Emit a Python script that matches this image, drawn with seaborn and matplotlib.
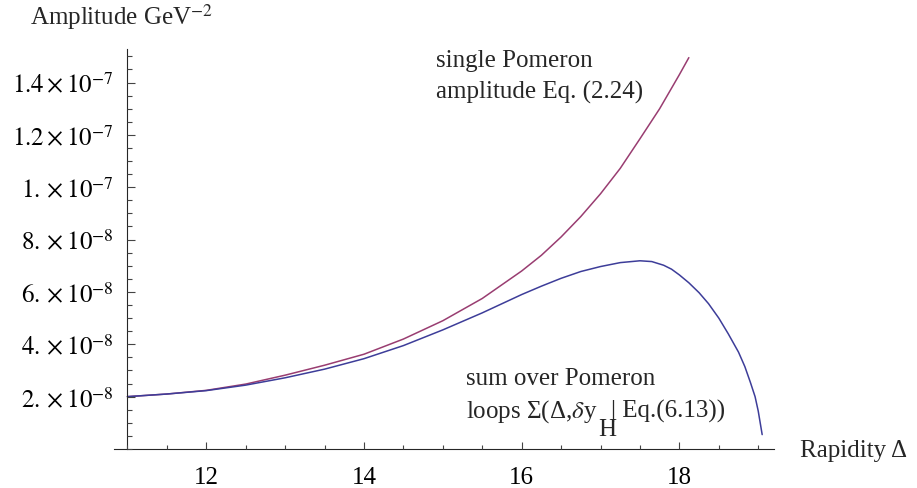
import numpy as np
import pandas as pd
import matplotlib
matplotlib.use("Agg")
import matplotlib.pyplot as plt
import seaborn as sns
from matplotlib.ticker import FixedLocator, FixedFormatter

# values (amplitude in units of 1e-8 GeV^-2)
rap_single = [11.0, 11.5, 12.0, 12.5, 13.0, 13.5, 14.0, 14.5, 15.0, 15.5,
              16.0, 16.25, 16.5, 16.75, 17.0, 17.25, 17.5, 17.75, 18.0, 18.12]
amp_single = [2.0, 2.1, 2.24, 2.48, 2.82, 3.2, 3.62, 4.2, 4.9, 5.75,
              6.8, 7.4, 8.1, 8.88, 9.75, 10.72, 11.85, 13.0, 14.3, 14.95]

rap_loops = [11.0, 11.5, 12.0, 12.5, 13.0, 13.5, 14.0, 14.5, 15.0, 15.5,
             16.0, 16.25, 16.5, 16.75, 17.0, 17.25, 17.5, 17.65, 17.8, 17.9,
             18.0, 18.12, 18.25, 18.37, 18.5, 18.62, 18.75, 18.83, 18.9,
             18.96, 19.0, 19.05]
amp_loops = [2.0, 2.1, 2.23, 2.44, 2.72, 3.05, 3.45, 3.95, 4.55, 5.2,
             5.9, 6.22, 6.52, 6.78, 6.97, 7.12, 7.19, 7.16, 7.02, 6.87,
             6.65, 6.35, 5.97, 5.55, 5.0, 4.4, 3.7, 3.15, 2.55,
             2.0, 1.45, 0.55]

y_ticks = [2e-8, 4e-8, 6e-8, 8e-8, 1e-7, 1.2e-7, 1.4e-7]
y_labels = [r"$2.\times10^{-8}$", r"$4.\times10^{-8}$", r"$6.\times10^{-8}$",
            r"$8.\times10^{-8}$", r"$1.\times10^{-7}$", r"$1.2\times10^{-7}$",
            r"$1.4\times10^{-7}$"]
x_ticks = [12, 14, 16, 18]
x_minor_step = 0.5
y_minor_step = 0.5e-8

single = pd.DataFrame({"rap": rap_single, "amp": np.array(amp_single) * 1e-8})
loops = pd.DataFrame({"rap": rap_loops, "amp": np.array(amp_loops) * 1e-8})

sns.set_style("ticks")
plt.rcParams["font.family"] = ["Liberation Serif", "DejaVu Serif"]
plt.rcParams["mathtext.fontset"] = "stix"

W, H = 917, 489
fig = plt.figure(figsize=(W / 100, H / 100), dpi=100)
ax = fig.add_axes([114 / W, (H - 450) / H, (774 - 114) / W, 400 / H])

sns.lineplot(data=single, x="rap", y="amp", color="#993D71", lw=1.1, ax=ax)
sns.lineplot(data=loops, x="rap", y="amp", color="#3D3D99", lw=1.1, ax=ax)

x0, x1 = 10.83, 19.2
y0, y1 = 0, 1.528e-7
ax.set_xlim(x0, x1)
ax.set_ylim(y0, y1)
ax.set_xlabel("")
ax.set_ylabel("")
ax.spines["top"].set_visible(False)
ax.spines["right"].set_visible(False)
ax.spines["left"].set_position(("data", 11))

ax.xaxis.set_major_locator(FixedLocator(x_ticks))
ax.xaxis.set_major_formatter(FixedFormatter([str(t) for t in x_ticks]))
ax.yaxis.set_major_locator(FixedLocator(y_ticks))
ax.yaxis.set_major_formatter(FixedFormatter(y_labels))
ax.tick_params(which="both", length=0, labelsize=18, labelcolor="black")
ax.tick_params(axis="x", pad=12)
ax.tick_params(axis="y", pad=10)

# inward Mathematica-style tick marks, drawn as short segments
px_x = (x1 - x0) / 660.0
px_y = (y1 - y0) / 400.0
xt_all = np.arange(11, x1, x_minor_step)
yt_all = np.arange(0, y1, y_minor_step)
x_major = np.isin(np.round(xt_all, 3), x_ticks)
y_major = np.isin(np.round(yt_all / 1e-9), np.round(np.array(y_ticks) / 1e-9))
tick_kw = dict(color="#444444", lw=0.8, zorder=3, clip_on=False)
ax.vlines(xt_all, 0, np.where(x_major, 7.5, 4.5) * px_y, **tick_kw)
ax.hlines(yt_all, 11, 11 + np.where(y_major, 7.5, 4.5) * px_x, **tick_kw)

# axis labels placed like the original (Mathematica style)
fig.text(30 / W, 1 - 25 / H, r"Amplitude GeV$^{-2}$", fontsize=18, va="baseline")
fig.text(800 / W, 1 - 457 / H, "Rapidity Δ", fontsize=18, va="baseline")

# curve annotations
fig.text(436 / W, 1 - 67 / H, "single Pomeron", fontsize=18, va="baseline")
fig.text(436 / W, 1 - 99 / H, "amplitude Eq. (2.24)", fontsize=18, va="baseline")
fig.text(466 / W, 1 - 385 / H, "sum over Pomeron", fontsize=18, va="baseline")
loops_txt = fig.text(466 / W, 1 - 418 / H, r"loops Σ(Δ,$\delta$y",
                     fontsize=18, va="baseline")
fig.canvas.draw()
bb = loops_txt.get_window_extent()
fig.text((bb.x1 + 1) / W, 1 - 436 / H, "H", fontsize=18, va="baseline")
fig.text((bb.x1 + 14) / W, 1 - 418 / H, "| Eq.(6.13))", fontsize=18, va="baseline")

fig.savefig("out.png", dpi=100)
